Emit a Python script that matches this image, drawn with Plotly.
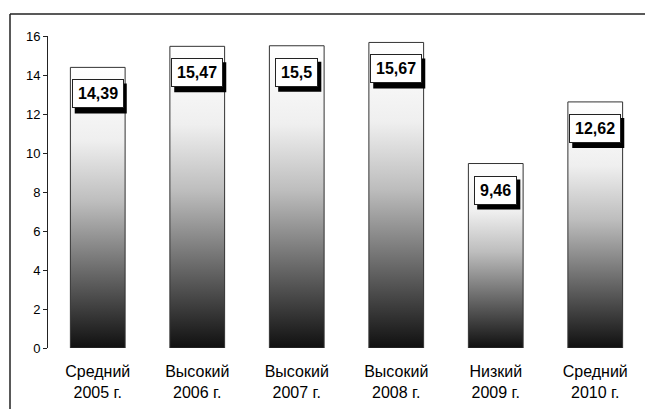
import plotly.graph_objects as go

categories = ["Средний<br>2005 г.", "Высокий<br>2006 г.", "Высокий<br>2007 г.",
              "Высокий<br>2008 г.", "Низкий<br>2009 г.", "Средний<br>2010 г."]
values = [14.39, 15.47, 15.5, 15.67, 9.46, 12.62]
y_ticks = [0, 2, 4, 6, 8, 10, 12, 14, 16]

FONT = "Arial, 'Liberation Sans', sans-serif"
half = 0.275
grad = [[0, "#101010"], [0.26, "#666666"], [0.52, "#bdbdbd"], [0.74, "#efefef"], [1, "#ffffff"]]

fig = go.Figure()
for i, v in enumerate(values):
    fig.add_trace(go.Scatter(
        x=[i - half, i + half, i + half, i - half, i - half],
        y=[0, 0, v, v, 0],
        mode="lines", fill="toself",
        fillgradient=dict(type="vertical", colorscale=grad),
        line=dict(color="#333333", width=1),
        hoverinfo="skip", showlegend=False,
    ))

FS = 16
PAD = 5
OFF = 12  # label box top below bar top, px
char_w = {",": 0.278, ".": 0.278}
for i, v in enumerate(values):
    txt = f"{v:g}".replace(".", ",")
    tw = sum(char_w.get(c, 0.556) for c in txt) * FS
    bw = tw + 2 * PAD + 2
    bh = 30
    # drop shadow (pixel-sized rectangle anchored at the bar top)
    fig.add_shape(type="rect", xref="x", yref="y",
                  xsizemode="pixel", ysizemode="pixel", xanchor=i, yanchor=v,
                  x0=-bw / 2 + 3, x1=bw / 2 + 3, y0=-OFF - 4 - bh, y1=-OFF - 4,
                  fillcolor="black", line=dict(width=0), layer="above")
    fig.add_annotation(x=i, y=v, xref="x", yref="y", text=f"<b>{txt}</b>",
                       showarrow=False, yanchor="top", xanchor="center",
                       yshift=-OFF,
                       font=dict(family=FONT, size=FS, color="black"),
                       bgcolor="white", bordercolor="#222222", borderwidth=1, borderpad=PAD)

W, H = 645, 409
ml, mr, mt, mb = 48, 0, 36, 61
pw, ph = W - ml - mr, H - mt - mb
fx = (10 - ml) / pw
fy = (H - mb - 14) / ph
fig.add_shape(type="line", xref="paper", yref="paper", x0=fx, x1=fx, y0=-1, y1=fy,
              line=dict(color="#222222", width=1.5))
fig.add_shape(type="line", xref="paper", yref="paper", x0=fx, x1=2, y0=fy, y1=fy,
              line=dict(color="#222222", width=1.5))

fig.update_layout(
    width=W, height=H,
    margin=dict(l=ml, r=mr, t=mt, b=mb),
    paper_bgcolor="white", plot_bgcolor="white",
    font=dict(family=FONT, color="black"),
    hovermode=False,
    xaxis=dict(range=[-0.5, 5.5], tickmode="array", tickvals=list(range(len(categories))),
               ticktext=categories, showgrid=False, zeroline=False, showline=False,
               ticks="", ticklabelstandoff=12,
               tickfont=dict(size=16, family=FONT, color="black"), fixedrange=True),
    yaxis=dict(range=[0, 16], tickmode="array", tickvals=y_ticks,
               showgrid=False, zeroline=False, showline=True, linecolor="#222222", linewidth=1,
               ticks="outside", ticklen=4, tickcolor="#222222",
               tickfont=dict(size=13, family=FONT, color="black"), fixedrange=True),
)

fig.write_html("out.html")
